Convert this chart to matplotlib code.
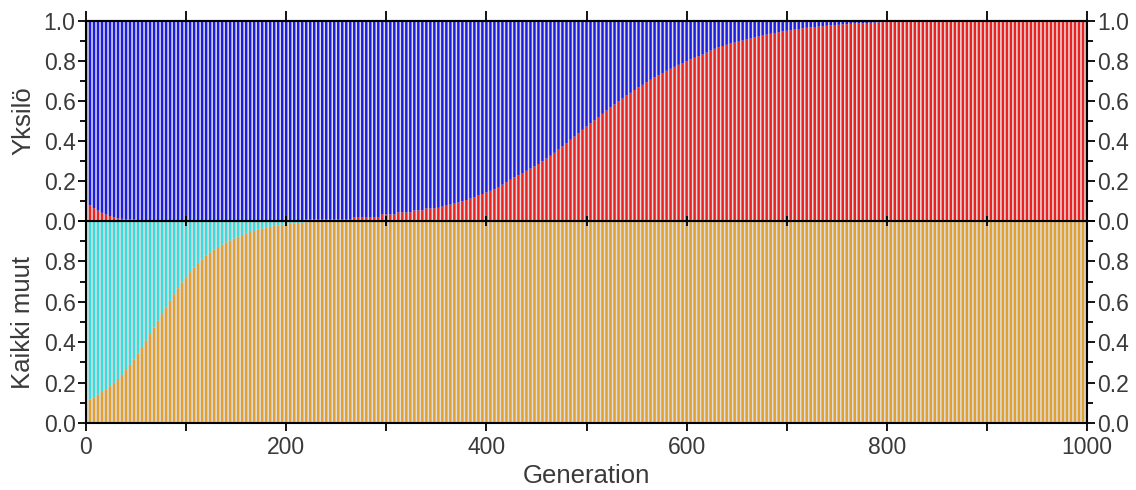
import matplotlib
matplotlib.use("Agg")
import matplotlib.pyplot as plt
from matplotlib.ticker import MultipleLocator, FuncFormatter

# ---------------- data ----------------
generations = list(range(0, 1001, 4))

# top panel ("Yksilö"): lower (red) share per generation
individual_red = (
    [0.097, 0.078, 0.064, 0.052, 0.041, 0.032, 0.025, 0.018, 0.013, 0.011,
     0.010, 0.009, 0.007, 0.004, 0.002]
    + [0.0] * 40
    + [0.010] * 12
    + [0.020] * 7
    + [0.033] * 4
    + [0.043] * 4
    + [0.053] * 3
    + [0.063] * 3
    + [0.066, 0.072, 0.077, 0.082, 0.087, 0.093, 0.099, 0.105, 0.112, 0.119,
       0.127, 0.135, 0.143, 0.151, 0.159, 0.170, 0.182, 0.194, 0.206, 0.218,
       0.229, 0.240, 0.251, 0.262, 0.273, 0.285, 0.298, 0.312, 0.326, 0.341,
       0.357, 0.373, 0.389, 0.406, 0.422, 0.439, 0.456, 0.472, 0.488, 0.504,
       0.520, 0.536, 0.552, 0.568, 0.583, 0.598, 0.612, 0.627, 0.641, 0.655,
       0.668, 0.681, 0.694, 0.706, 0.718, 0.729, 0.740, 0.751, 0.761, 0.771,
       0.781, 0.790, 0.799, 0.808, 0.816, 0.824, 0.832, 0.842, 0.852, 0.861,
       0.868, 0.875, 0.881, 0.887, 0.892, 0.897, 0.902, 0.907, 0.912, 0.917,
       0.922, 0.927, 0.932, 0.936, 0.940, 0.944, 0.948, 0.951, 0.954, 0.957,
       0.960, 0.963, 0.966, 0.968, 0.970, 0.972, 0.974, 0.976, 0.978, 0.980,
       0.981, 0.983, 0.984, 0.986, 0.987, 0.988, 0.989, 0.990, 0.991, 0.992,
       0.993, 0.994, 0.995, 0.996, 0.997, 0.998, 0.999]
    + [1.0] * 46
)

# bottom panel ("Kaikki muut"): lower (orange) share per generation
others_orange = (
    [0.097, 0.115, 0.127, 0.140, 0.153, 0.167, 0.182, 0.199, 0.218, 0.239,
     0.262, 0.288, 0.315, 0.344, 0.375, 0.407, 0.440, 0.473, 0.506, 0.539,
     0.572, 0.605, 0.637, 0.667, 0.696, 0.722, 0.747, 0.770, 0.791, 0.810,
     0.828, 0.844, 0.858, 0.871, 0.883, 0.894, 0.904, 0.913, 0.922, 0.930,
     0.938, 0.945, 0.951, 0.957, 0.962, 0.967, 0.971, 0.975, 0.978, 0.981,
     0.984, 0.986, 0.988, 0.990, 0.992, 0.994, 0.996, 0.998]
    + [1.0] * 193
)

assert len(individual_red) == len(generations)
assert len(others_orange) == len(generations)

ylabel_top = "Yksilö"
ylabel_bottom = "Kaikki muut"
xlabel = "Generation"

# ---------------- style ----------------
plt.rcParams["font.family"] = ["Liberation Sans", "DejaVu Sans"]
RED = "#ee2020"
BLUE = "#1c1ce6"
ORANGE = "#e2a030"
CYAN = "#38dcdc"
GAP = "#dedede"
TXT = "#3a3a3a"
TICK_FS = 16.5
LABEL_FS = 18.5

fig = plt.figure(figsize=(11.36, 4.90), dpi=100)
L = 86 / 1136
W = (1087 - 86) / 1136
ax_top = fig.add_axes([L, 1 - 221 / 490, W, 200 / 490])
ax_bot = fig.add_axes([L, 1 - 423 / 490, W, 202 / 490])
ax_top.set_zorder(3)
ax_bot.set_zorder(2)

bar_w = 2.45
upper_blue = [1 - v for v in individual_red]
upper_cyan = [1 - v for v in others_orange]

kw = dict(width=bar_w, linewidth=0, snap=False)
ax_top.bar(generations, individual_red, color=RED, **kw)
ax_top.bar(generations, upper_blue, bottom=individual_red, color=BLUE, **kw)
ax_bot.bar(generations, others_orange, color=ORANGE, **kw)
ax_bot.bar(generations, upper_cyan, bottom=others_orange, color=CYAN, **kw)

for ax in (ax_top, ax_bot):
    ax.set_facecolor(GAP)
    ax.set_xlim(0, 1000)
    ax.set_ylim(0, 1)
    for s in ax.spines.values():
        s.set_color("black")
        s.set_linewidth(1.5)
    ax.yaxis.set_major_locator(MultipleLocator(0.2))
    ax.yaxis.set_minor_locator(MultipleLocator(0.1))
    ax.yaxis.set_major_formatter(FuncFormatter(lambda v, p: f"{v:.1f}"))
    ax.tick_params(axis="y", which="both", left=True, right=True,
                   labelleft=True, labelright=True, direction="out",
                   colors="black", labelcolor=TXT, labelsize=TICK_FS)
    ax.tick_params(axis="y", which="major", length=6, width=1.3, pad=1.5)
    ax.tick_params(axis="y", which="minor", length=4, width=1.3)
    ax.xaxis.set_major_locator(MultipleLocator(100))

# bottom panel: hide the 1.0 label (shared with top panel's 0.0)
ax_bot.yaxis.set_major_formatter(
    FuncFormatter(lambda v, p: "" if v > 0.99 else f"{v:.1f}"))
ax_bot.xaxis.set_major_formatter(
    FuncFormatter(lambda v, p: f"{int(round(v))}" if round(v) % 200 == 0 else ""))
ax_bot.tick_params(axis="x", which="major", bottom=True, top=False,
                   direction="out", length=6, width=1.3, colors="black",
                   labelcolor=TXT, labelsize=TICK_FS, pad=3)
ax_bot.set_xlabel(xlabel, fontsize=LABEL_FS, color=TXT, labelpad=4)
ax_bot.set_ylabel(ylabel_bottom, fontsize=LABEL_FS, color=TXT, labelpad=6)

# top panel: ticks straddling the middle line, outward ticks on top
ax_top.tick_params(axis="x", which="major", bottom=True, top=False,
                   labelbottom=False, direction="inout", length=7, width=1.3,
                   colors="black")
sec = ax_top.secondary_xaxis("top")
sec.xaxis.set_major_locator(MultipleLocator(100))
sec.tick_params(axis="x", which="major", direction="out", length=7, width=1.3,
                colors="black", labeltop=False)
sec.spines["top"].set_linewidth(1.5)
ax_top.set_ylabel(ylabel_top, fontsize=LABEL_FS, color=TXT, labelpad=6)

fig.savefig("out.png", dpi=100)
